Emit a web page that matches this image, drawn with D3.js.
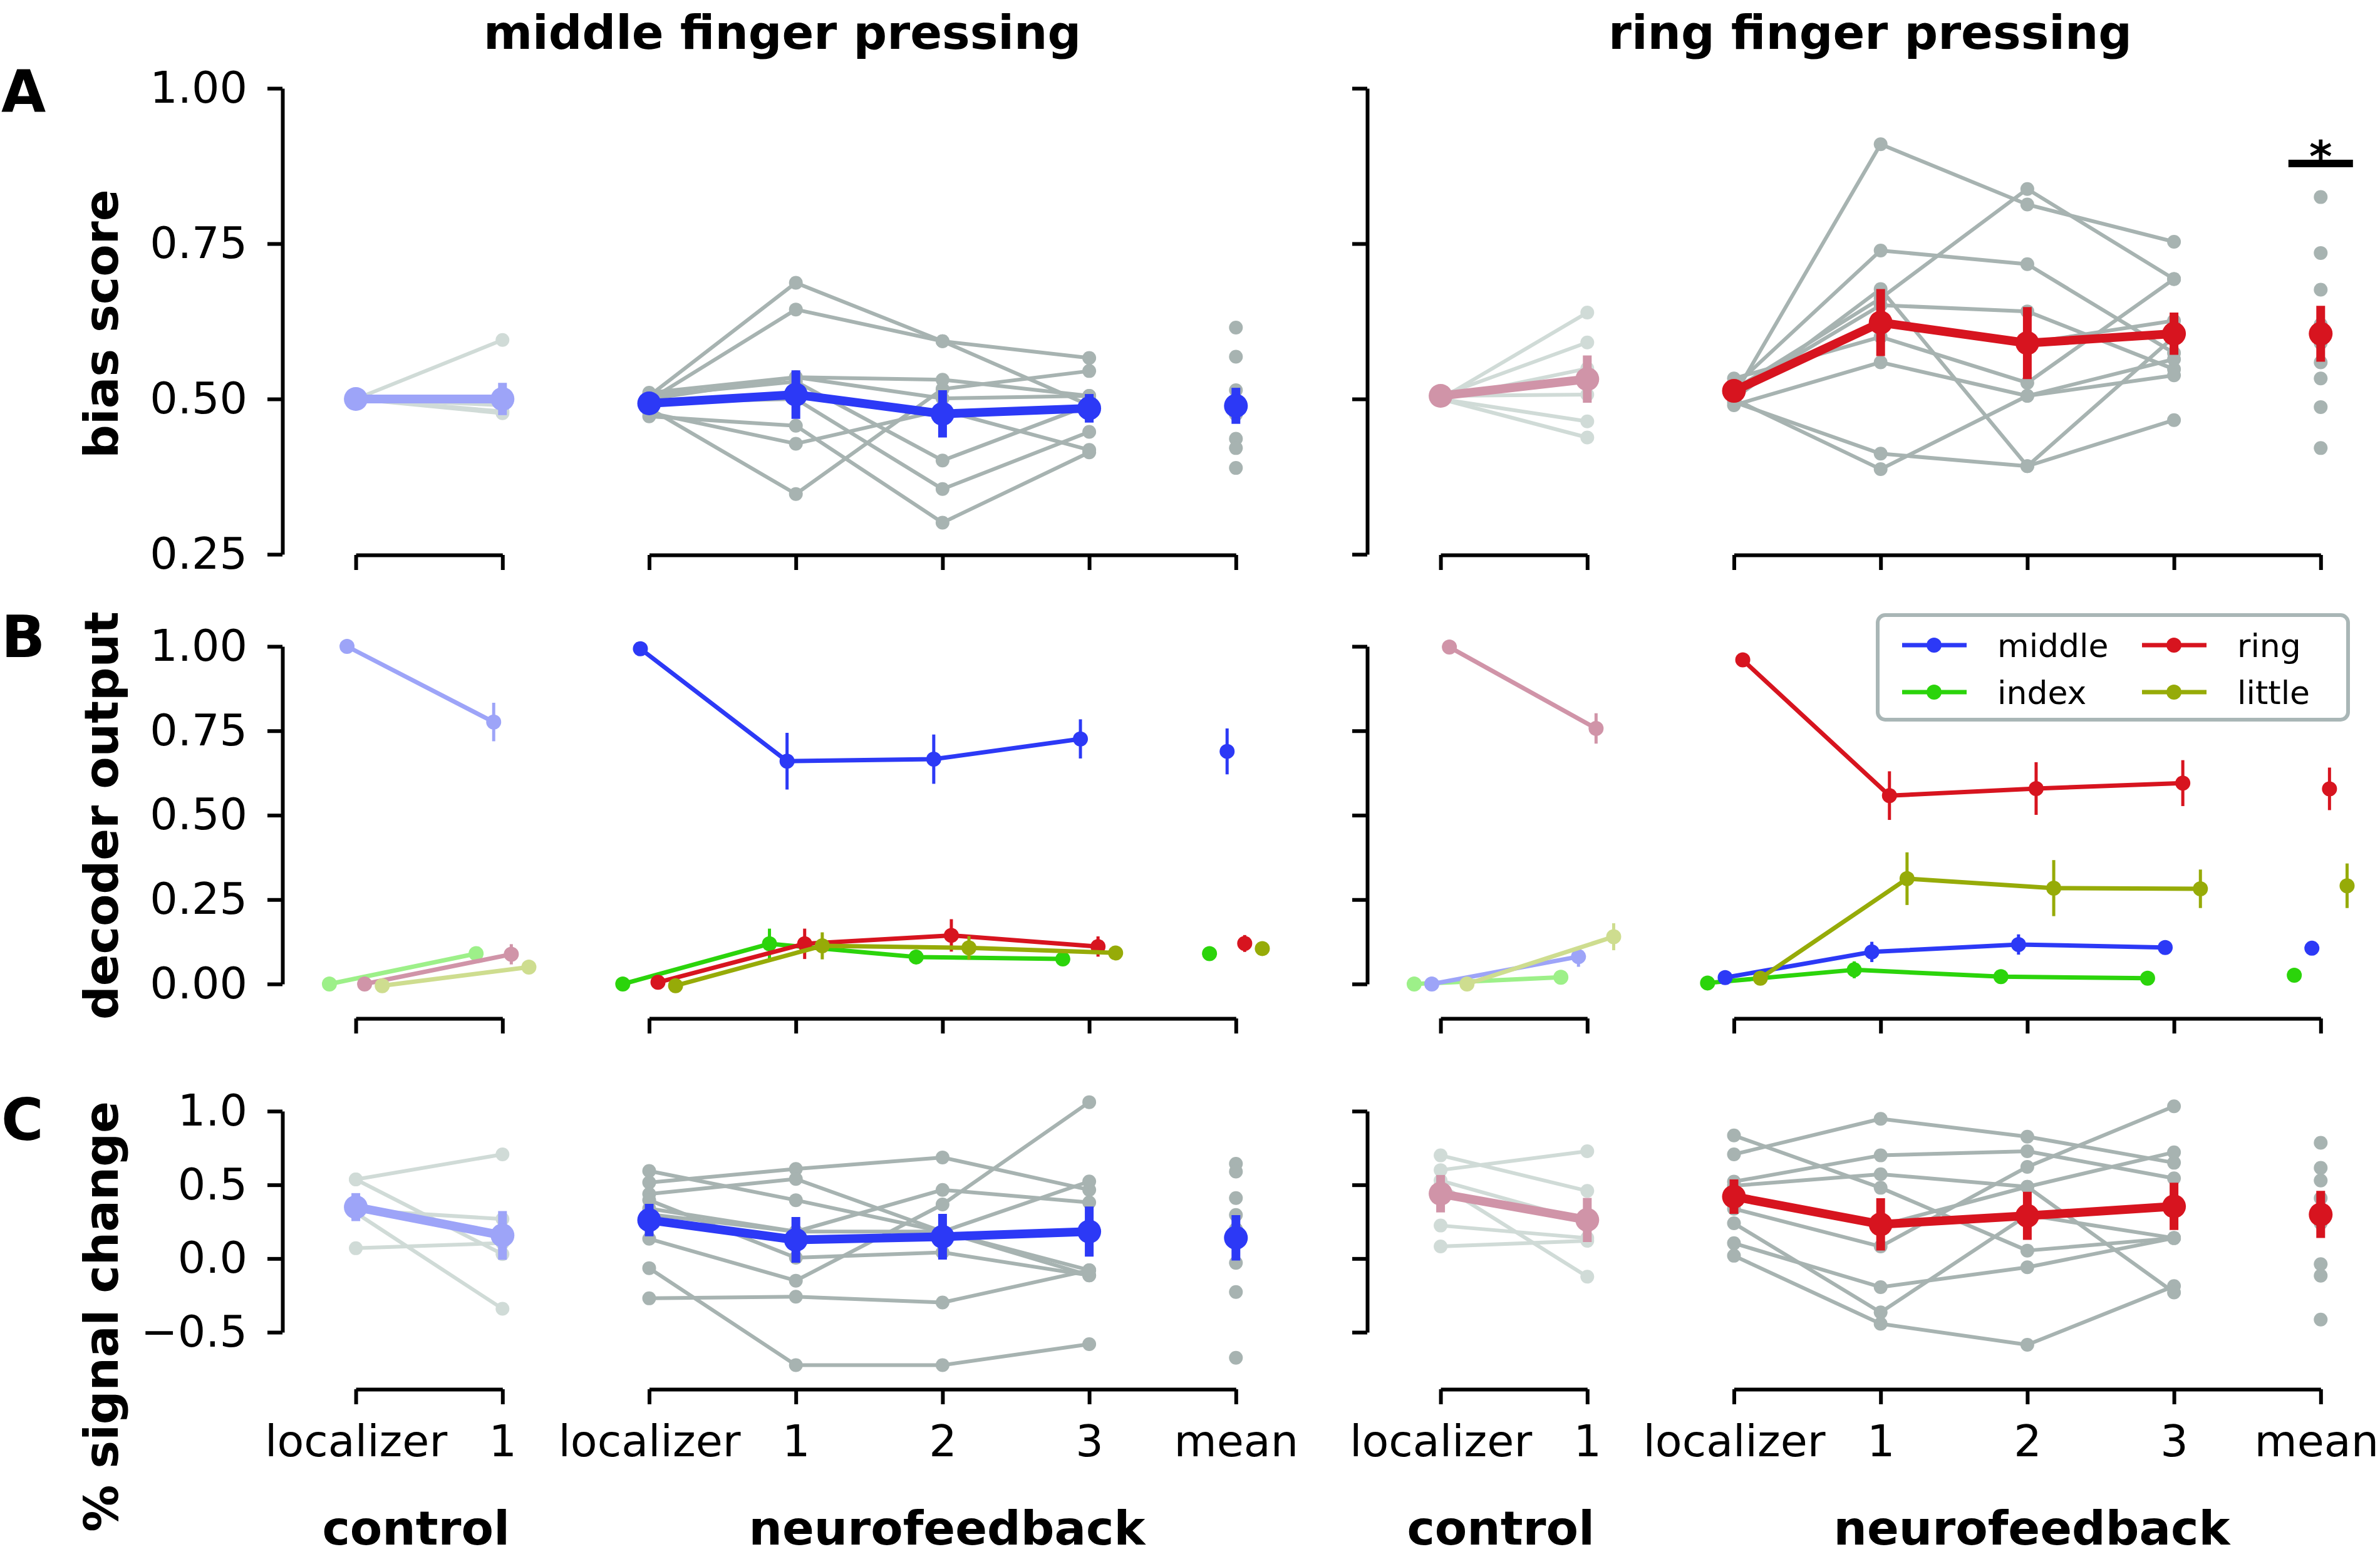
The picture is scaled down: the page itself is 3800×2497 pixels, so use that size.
<!DOCTYPE html>
<html><head><meta charset="utf-8">
<script src="https://cdn.jsdelivr.net/npm/d3@7"></script>
<style>body{margin:0;background:#fff} svg{display:block} text{font-family:"DejaVu Sans",sans-serif}</style>
</head><body><svg id="c" width="3800" height="2497"></svg>
<script>
// ---------------- DATA ----------------
const titles = ["middle finger pressing", "ring finger pressing"];
const groupLabels = ["control", "neurofeedback"];
const ctrlTickLabels = ["localizer", "1"];
const nfTickLabels = ["localizer", "1", "2", "3", "mean"];
const rowLetters = ["A", "B", "C"];
const rowYLabels = ["bias score", "decoder output", "% signal change"];
const ticksA = [0.25, 0.5, 0.75, 1.0];
const ticksB = [0, 0.25, 0.5, 0.75, 1.0];
const ticksC = [-0.5, 0, 0.5, 1.0];
const legendNames = ["middle", "index", "ring", "little"];
const hueOrder = ["index", "middle", "ring", "little"];
const hueDodge = [-0.18, -0.06, 0.06, 0.18];

// Panel A: bias score — middle finger pressing
const biasMidCtrlSubj = [[0.50,0.595],[0.50,0.50],[0.50,0.49],[0.50,0.48],[0.50,0.477]];
const biasMidCtrlMean = [0.500, 0.500];
const biasMidCtrlErr = [0.005, 0.026];
const biasMidNFSubj = [
  [0.505,0.687,0.593,0.566],[0.498,0.644,0.593,0.490],[0.510,0.535,0.501,0.505],
  [0.505,0.528,0.401,0.490],[0.485,0.347,0.516,0.545],[0.472,0.457,0.301,0.414],
  [0.478,0.428,0.482,0.418],[0.495,0.500,0.355,0.447],[0.500,0.535,0.531,0.505]];
const biasMidNFMean = [0.493, 0.507, 0.476, 0.485];
const biasMidNFErr = [0.008, 0.039, 0.038, 0.023];
const biasMidMeanDots = [0.615,0.568,0.514,0.49,0.475,0.436,0.421,0.389];
const biasMidGrand = [0.489], biasMidGrandErr = [0.029];
// Panel A: bias score — ring finger pressing
const biasRingCtrlSubj = [[0.50,0.639],[0.505,0.591],[0.50,0.549],[0.505,0.507],[0.50,0.464],[0.50,0.438]];
const biasRingCtrlMean = [0.505, 0.532];
const biasRingCtrlErr = [0.005, 0.038];
const biasRingNFSubj = [
  [0.505,0.910,0.813,0.753],[0.520,0.739,0.717,0.574],[0.515,0.662,0.838,0.693],
  [0.510,0.651,0.641,0.548],[0.500,0.677,0.392,0.466],[0.533,0.600,0.526,0.693],
  [0.490,0.559,0.505,0.538],[0.495,0.412,0.392,0.600],[0.500,0.387,0.505,0.564],
  [0.510,0.623,0.590,0.626]];
const biasRingNFMean = [0.513, 0.623, 0.590, 0.605];
const biasRingNFErr = [0.010, 0.054, 0.058, 0.034];
const biasRingMeanDots = [0.825,0.735,0.676,0.62,0.59,0.559,0.533,0.487,0.421];
const biasRingGrand = [0.605], biasRingGrandErr = [0.045];

// Panel B: decoder output (rows: index, middle, ring, little)
const decMidCtrlMean = [[0.0,0.090],[1.0,0.776],[0.0,0.088],[-0.005,0.050]];
const decMidCtrlErr  = [[0,0.012],[0,0.057],[0,0.03],[0,0.015]];
const decMidNFMean = [[0.0,0.119,0.080,0.074],[0.993,0.660,0.666,0.726],[0.005,0.119,0.144,0.111],[-0.005,0.113,0.107,0.092]];
const decMidNFErr  = [[0,0.045,0.012,0.010],[0,0.084,0.073,0.058],[0,0.045,0.048,0.030],[0,0.040,0.035,0.020]];
const decMidGrand = [0.090,0.689,0.120,0.105];
const decMidGrandErr = [0.02,0.068,0.025,0.02];
const decRingCtrlMean = [[0.0,0.020],[0.0,0.081],[0.998,0.757],[0.0,0.140]];
const decRingCtrlErr  = [[0,0.008],[0,0.03],[0,0.045],[0,0.04]];
const decRingNFMean = [[0.003,0.042,0.022,0.017],[0.019,0.095,0.117,0.108],[0.960,0.558,0.579,0.595],[0.017,0.312,0.284,0.282]];
const decRingNFErr  = [[0,0.025,0.010,0.008],[0,0.03,0.03,0.02],[0,0.072,0.078,0.068],[0,0.078,0.083,0.057]];
const decRingGrand = [0.026,0.106,0.578,0.291];
const decRingGrandErr = [0.01,0.015,0.063,0.066];

// Panel C: % signal change — middle finger pressing
const pscMidCtrlSubj = [[0.537,0.707],[0.537,0.030],[0.33,0.268],[0.31,-0.341],[0.07,0.105]];
const pscMidCtrlMean = [0.349, 0.157];
const pscMidCtrlErr = [0.095, 0.165];
const pscMidNFSubj = [
  [0.594,0.396,0.183,-0.114],[0.516,0.608,0.686,0.466],[0.438,0.540,0.183,-0.079],
  [0.396,0.006,0.042,-0.114],[0.339,0.183,0.466,0.381],[0.134,-0.150,0.367,1.061],
  [0.300,0.183,0.183,0.523],[-0.065,-0.723,-0.723,-0.581],[-0.270,-0.259,-0.298,-0.079]];
const pscMidNFMean = [0.261, 0.127, 0.148, 0.183];
const pscMidNFErr = [0.11, 0.155, 0.155, 0.17];
const pscMidMeanDots = [0.643,0.59,0.41,0.296,0.20,-0.029,-0.227,-0.673];
const pscMidGrand = [0.141], pscMidGrandErr = [0.154];
// Panel C: % signal change — ring finger pressing
const pscRingCtrlSubj = [[0.700,0.459],[0.600,0.728],[0.529,0.25],[0.50,-0.123],[0.224,0.139],[0.082,0.12]];
const pscRingCtrlMean = [0.440, 0.262];
const pscRingCtrlErr = [0.127, 0.15];
const pscRingNFSubj = [
  [0.707,0.948,0.827,0.650],[0.835,0.480,0.054,0.139],[0.522,0.700,0.728,0.544],
  [0.494,0.572,0.487,0.721],[0.338,0.082,0.622,1.033],[0.239,-0.365,0.295,0.139],
  [0.104,-0.194,-0.059,0.139],[0.019,-0.443,-0.585,-0.187],[0.423,0.224,0.487,-0.230]];
const pscRingNFMean = [0.420, 0.232, 0.290, 0.354];
const pscRingNFErr = [0.117, 0.177, 0.163, 0.16];
const pscRingMeanDots = [0.785,0.615,0.529,0.409,0.239,-0.038,-0.116,-0.414];
const pscRingGrand = [0.299], pscRingGrandErr = [0.16];

// ---------------- STYLE ----------------
const COL = {gray:"#a7b3b1", lgray:"#d0dbd7", blue:"#2c39f6", lblue:"#9da4f8", red:"#d7141f", pink:"#d094a8",
  green:"#2bd40b", lgreen:"#9df089", olive:"#96ab08", lolive:"#cedd8f", legend:"#a9b6b6"};
const hueFull = [COL.green, COL.blue, COL.red, COL.olive];
const hueLight = [COL.lgreen, COL.lblue, COL.pink, COL.lolive];
const posCtrl = [0, 1], posNF = [2, 3, 4, 5], posMean = 6;

const svg = d3.select("#c");
const W = 234.2;
const xL = d3.scaleLinear().domain([-0.5, 6.5]).range([451, 451 + 7 * W]);
const xR = d3.scaleLinear().domain([-0.5, 6.5]).range([2183, 2183 + 7 * W]);
const yA = d3.scaleLinear().domain([0.25, 1]).range([885, 141]);
const yB = d3.scaleLinear().domain([0, 1]).range([1571, 1032]);
const yC = d3.scaleLinear().domain([-0.5, 1]).range([2127, 1774]);
const spineY = {A: 886, B: 1626, C: 2218};

function styleAxis(g) {
  g.attr("font-family", "DejaVu Sans").attr("font-size", 70);
  g.select(".domain").attr("stroke", "#000").attr("stroke-width", 6);
  g.selectAll(".tick line").attr("stroke", "#000").attr("stroke-width", 6);
  g.selectAll(".tick text").attr("fill", "#000");
}
function yAxis(x0, y, ticks, fmt, show) {
  const ax = d3.axisLeft(y).tickValues(ticks).tickSize(24).tickSizeOuter(0).tickPadding(32)
    .tickFormat(show ? d3.format(fmt) : () => "");
  svg.append("g").attr("transform", `translate(${x0},0)`).call(ax).call(styleAxis);
}
function xAxis(x, y0, ps, labels) {
  const sub = d3.scaleLinear().domain([ps[0], ps[ps.length - 1]]).range([x(ps[0]), x(ps[ps.length - 1])]);
  const ax = d3.axisBottom(sub).tickValues(ps).tickSize(24).tickSizeOuter(0).tickPadding(33)
    .tickFormat((d, i) => labels ? labels[i] : "");
  const g = svg.append("g").attr("transform", `translate(0,${y0})`).call(ax).call(styleAxis);
  // keep the right-most label inside the page
  g.selectAll(".tick text").each(function () {
    const b = this.getBBox(), m = this.getCTM();
    const right = m.e + b.x + b.width;
    if (right > 3798) d3.select(this).attr("dx", 3798 - right);
  });
}
function subjects(g, x, y, pos, rows, color) {
  rows.forEach(r => {
    g.append("path").attr("d", d3.line()(r.map((v, i) => [x(pos[i]), y(v)])))
      .attr("fill", "none").attr("stroke", color).attr("stroke-width", 6).attr("stroke-linejoin", "round");
    g.selectAll(null).data(r).join("circle").attr("cx", (d, i) => x(pos[i])).attr("cy", d => y(d))
      .attr("r", 11).attr("fill", color);
  });
}
function dots(g, x, y, p, vals, color) {
  g.selectAll(null).data(vals).join("circle").attr("cx", x(p)).attr("cy", d => y(d)).attr("r", 11).attr("fill", color);
}
function meanSeries(g, x, y, pos, vals, errs, color, lw, ew, r, drawLine) {
  vals.forEach((v, i) => {
    if (errs[i] > 0) g.append("line").attr("x1", x(pos[i])).attr("x2", x(pos[i]))
      .attr("y1", y(v - errs[i])).attr("y2", y(v + errs[i])).attr("stroke", color).attr("stroke-width", ew);
  });
  if (drawLine) g.append("path").attr("d", d3.line()(vals.map((v, i) => [x(pos[i]), y(v)])))
    .attr("fill", "none").attr("stroke", color).attr("stroke-width", lw).attr("stroke-linejoin", "round");
  g.selectAll(null).data(vals).join("circle").attr("cx", (d, i) => x(pos[i])).attr("cy", d => y(d))
    .attr("r", r).attr("fill", color);
}

// ---------------- AXES ----------------
[[xL, true], [xR, false]].forEach(([x, show]) => {
  const x0 = x(-0.5);
  yAxis(x0, yA, ticksA, ".2f", show);
  yAxis(x0, yB, ticksB, ".2f", show);
  yAxis(x0, yC, ticksC, ".1f", show);
  xAxis(x, spineY.A, posCtrl, null); xAxis(x, spineY.A, [...posNF, posMean], null);
  xAxis(x, spineY.B, posCtrl, null); xAxis(x, spineY.B, [...posNF, posMean], null);
  xAxis(x, spineY.C, posCtrl, ctrlTickLabels); xAxis(x, spineY.C, [...posNF, posMean], nfTickLabels);
});

// ---------------- PANEL A / C (subject lines + means) ----------------
function subjectPanel(x, y, ctrlSubj, ctrlMean, ctrlErr, nfSubj, nfMean, nfErr, meanDots, grand, grandErr, light, full) {
  const g = svg.append("g");
  subjects(g, x, y, posCtrl, ctrlSubj, COL.lgray);
  meanSeries(g, x, y, posCtrl, ctrlMean, ctrlErr, light, 14, 14, 19, true);
  subjects(g, x, y, posNF, nfSubj, COL.gray);
  meanSeries(g, x, y, posNF, nfMean, nfErr, full, 14, 14, 19, true);
  dots(g, x, y, posMean, meanDots, COL.gray);
  meanSeries(g, x, y, [posMean], grand, grandErr, full, 14, 14, 19, false);
}
subjectPanel(xL, yA, biasMidCtrlSubj, biasMidCtrlMean, biasMidCtrlErr, biasMidNFSubj, biasMidNFMean, biasMidNFErr,
  biasMidMeanDots, biasMidGrand, biasMidGrandErr, COL.lblue, COL.blue);
subjectPanel(xR, yA, biasRingCtrlSubj, biasRingCtrlMean, biasRingCtrlErr, biasRingNFSubj, biasRingNFMean, biasRingNFErr,
  biasRingMeanDots, biasRingGrand, biasRingGrandErr, COL.pink, COL.red);
subjectPanel(xL, yC, pscMidCtrlSubj, pscMidCtrlMean, pscMidCtrlErr, pscMidNFSubj, pscMidNFMean, pscMidNFErr,
  pscMidMeanDots, pscMidGrand, pscMidGrandErr, COL.lblue, COL.blue);
subjectPanel(xR, yC, pscRingCtrlSubj, pscRingCtrlMean, pscRingCtrlErr, pscRingNFSubj, pscRingNFMean, pscRingNFErr,
  pscRingMeanDots, pscRingGrand, pscRingGrandErr, COL.pink, COL.red);

// significance marker
{
  const g = svg.append("g");
  g.append("line").attr("x1", xR(posMean - 0.22)).attr("x2", xR(posMean + 0.22)).attr("y1", 261).attr("y2", 261)
    .attr("stroke", "#000").attr("stroke-width", 12);
  g.append("text").attr("x", xR(posMean)).attr("y", 274).attr("text-anchor", "middle")
    .attr("font-size", 70).attr("font-weight", "bold").text("*");
}

// ---------------- PANEL B ----------------
function decoderPanel(x, ctrlMean, ctrlErr, nfMean, nfErr, grand, grandErr) {
  const g = svg.append("g");
  hueOrder.forEach((h, k) => {
    const off = hueDodge[k];
    meanSeries(g, x, yB, posCtrl.map(p => p + off), ctrlMean[k], ctrlErr[k], hueLight[k], 7, 5, 12, true);
  });
  hueOrder.forEach((h, k) => {
    const off = hueDodge[k];
    meanSeries(g, x, yB, posNF.map(p => p + off), nfMean[k], nfErr[k], hueFull[k], 7, 5, 12, true);
    meanSeries(g, x, yB, [posMean + off], [grand[k]], [grandErr[k]], hueFull[k], 7, 5, 12, false);
  });
}
decoderPanel(xL, decMidCtrlMean, decMidCtrlErr, decMidNFMean, decMidNFErr, decMidGrand, decMidGrandErr);
decoderPanel(xR, decRingCtrlMean, decRingCtrlErr, decRingNFMean, decRingNFErr, decRingGrand, decRingGrandErr);

// legend
{
  const g = svg.append("g");
  g.append("rect").attr("x", 2998).attr("y", 982).attr("width", 751).attr("height", 167).attr("rx", 12)
    .attr("fill", "#fff").attr("stroke", COL.legend).attr("stroke-width", 6);
  const legendCols = [COL.blue, COL.green, COL.red, COL.olive];
  legendNames.forEach((n, i) => {
    const col = Math.floor(i / 2), row = i % 2;
    const hx = col === 0 ? 3037 : 3420, cy = row === 0 ? 1030 : 1105;
    g.append("line").attr("x1", hx).attr("x2", hx + 103).attr("y1", cy).attr("y2", cy)
      .attr("stroke", legendCols[i]).attr("stroke-width", 7);
    g.append("circle").attr("cx", hx + 51).attr("cy", cy).attr("r", 12).attr("fill", legendCols[i]);
    g.append("text").attr("x", hx + 152).attr("y", cy).attr("dy", "0.36em").attr("font-size", 52).text(n);
  });
}

// ---------------- TEXT ----------------
[[xL, 0], [xR, 1]].forEach(([x, i]) => {
  svg.append("text").attr("x", i === 0 ? 1249 : 2986).attr("y", 78).attr("text-anchor", "middle")
    .attr("font-size", 75).attr("font-weight", "bold").text(titles[i]);
  svg.append("text").attr("x", x(0.41)).attr("y", 2466).attr("text-anchor", "middle")
    .attr("font-size", 75).attr("font-weight", "bold").text(groupLabels[0]);
  svg.append("text").attr("x", x(4.03)).attr("y", 2466).attr("text-anchor", "middle")
    .attr("font-size", 75).attr("font-weight", "bold").text(groupLabels[1]);
});
const letterBase = [178, 1049, 1820];
const ylabCenter = [517, 1302, 2102];
rowLetters.forEach((L, i) => {
  svg.append("text").attr("x", 2).attr("y", letterBase[i]).attr("font-size", 92).attr("font-weight", "bold").text(L);
  svg.append("text").attr("transform", `translate(188,${ylabCenter[i]}) rotate(-90)`).attr("text-anchor", "middle")
    .attr("font-size", 75).attr("font-weight", "bold").text(rowYLabels[i]);
});
</script></body></html>
